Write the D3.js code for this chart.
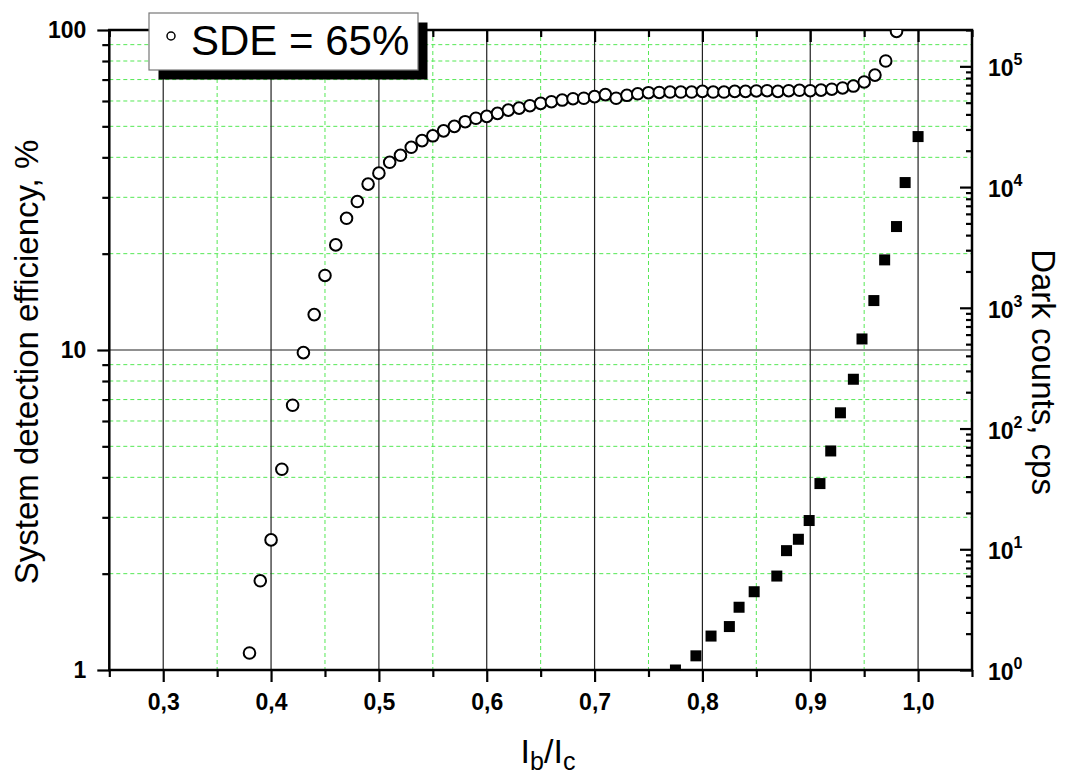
<!DOCTYPE html>
<html>
<head>
<meta charset="utf-8">
<script src="https://cdn.jsdelivr.net/npm/d3@7"></script>
<style>
  body { margin: 0; background: #fff; }
  text { font-family: "Liberation Sans", Arial, sans-serif; }
</style>
</head>
<body>
<div id="chart"></div>
<script>
// ---- data ----
const sdeX = [0.38,0.39,0.40,0.41,0.42,0.43,0.44,0.45,0.46,0.47,0.48,0.49,0.50,0.51,0.52,0.53,0.54,0.55,0.56,0.57,
              0.58,0.59,0.60,0.61,0.62,0.63,0.64,0.65,0.66,0.67,0.68,0.69,0.70,0.71,0.72,0.73,0.74,0.75,0.76,0.77,
              0.78,0.79,0.80,0.81,0.82,0.83,0.84,0.85,0.86,0.87,0.88,0.89,0.90,0.91,0.92,0.93,0.94,0.95,0.96,0.97,0.98];
const sdeY = [1.13,1.90,2.55,4.24,6.72,9.81,12.9,17.1,21.3,25.8,29.1,33.0,35.7,38.6,40.6,43.0,45.1,46.7,48.4,50.0,
              51.7,53.0,53.7,54.9,56.2,57.0,58.0,59.0,59.7,60.4,61.0,61.2,61.9,62.8,61.2,62.5,63.2,63.7,63.8,64.0,
              64.0,64.0,64.3,64.0,64.0,64.3,64.3,64.5,64.6,64.3,64.6,64.8,64.6,64.9,65.3,65.9,66.8,68.8,72.3,80.0,99];

const dcX = [0.775,0.794,0.808,0.825,0.834,0.848,0.869,0.878,0.889,0.899,0.909,0.919,0.928,0.940,0.948,0.959,0.969,0.980,0.988,1.000];
const dcY = [1.0,1.31,1.91,2.29,3.31,4.45,6.0,9.74,12.1,17.3,35.0,65.2,135,256,552,1148,2494,4710,10900,26200];

const xMajor = [0.3,0.4,0.5,0.6,0.7,0.8,0.9,1.0];
const xMinor = [0.25,0.35,0.45,0.55,0.65,0.75,0.85,0.95,1.05];
const yLMajor = [1,10,100];
const yLMinor = [2,3,4,5,6,7,8,9,20,30,40,50,60,70,80,90];
const yRMajor = [1,10,100,1000,10000,100000];
const yRMinor = [2,3,4,5,6,7,8,9,20,30,40,50,60,70,80,90,200,300,400,500,600,700,800,900,
                 2000,3000,4000,5000,6000,7000,8000,9000,20000,30000,40000,50000,60000,70000,80000,90000,200000];

// ---- layout ----
const W = 1073, H = 779;
const pL = 109.3, pR = 972, pT = 30, pB = 670;

const svg = d3.select("#chart").append("svg")
  .attr("width", W).attr("height", H);

const x = d3.scaleLinear().domain([0.25, 1.05]).range([pL, pR]);
const yL = d3.scaleLog().domain([1, 100]).range([pB, pT]);
const yR = d3.scaleLog().domain([1, 2e5]).range([pB, pT]);

// grid
const grid = svg.append("g");
grid.selectAll(".gxm").data(xMinor.slice(1, -1)).join("line")
  .attr("x1", d => x(d)).attr("x2", d => x(d)).attr("y1", pT).attr("y2", pB)
  .attr("stroke", "#55e855").attr("stroke-width", 1).attr("stroke-dasharray", "4,3");
grid.selectAll(".gym").data(yLMinor).join("line")
  .attr("x1", pL).attr("x2", pR).attr("y1", d => yL(d)).attr("y2", d => yL(d))
  .attr("stroke", "#55e855").attr("stroke-width", 1).attr("stroke-dasharray", "4,3");
grid.selectAll(".gxM").data(xMajor).join("line")
  .attr("x1", d => x(d)).attr("x2", d => x(d)).attr("y1", pT).attr("y2", pB)
  .attr("stroke", "#222").attr("stroke-width", 1.2);
grid.append("line")
  .attr("x1", pL).attr("x2", pR).attr("y1", yL(10)).attr("y2", yL(10))
  .attr("stroke", "#222").attr("stroke-width", 1.2);

// axes
const fmtX = d => d.toFixed(1).replace(".", ",");

function clean(g) {
  g.select(".domain").remove();
  g.selectAll(".tick line").attr("stroke", "#000").attr("stroke-width", 2.2);
}

svg.append("g").attr("transform", `translate(0,${pB})`)
  .call(d3.axisBottom(x).tickValues(xMajor).tickSize(12).tickPadding(12).tickFormat(fmtX))
  .call(clean)
  .call(g => g.selectAll("text").attr("font-size", 23).attr("font-weight", "bold").attr("fill", "#000")
    .attr("font-family", "Liberation Sans, Arial, sans-serif"));
svg.append("g").attr("transform", `translate(0,${pB})`)
  .call(d3.axisBottom(x).tickValues(xMinor).tickSize(7).tickFormat(""))
  .call(clean);

svg.append("g").attr("transform", `translate(0,${pT})`)
  .call(d3.axisTop(x).tickValues(xMajor).tickSize(-12).tickFormat(""))
  .call(clean);
svg.append("g").attr("transform", `translate(0,${pT})`)
  .call(d3.axisTop(x).tickValues(xMinor).tickSize(-7).tickFormat(""))
  .call(clean);

svg.append("g").attr("transform", `translate(${pL},0)`)
  .call(d3.axisLeft(yL).tickValues(yLMajor).tickSize(12).tickPadding(11).tickFormat(d3.format("d")))
  .call(clean)
  .call(g => g.selectAll("text").attr("font-size", 23).attr("font-weight", "bold").attr("fill", "#000")
    .attr("font-family", "Liberation Sans, Arial, sans-serif"));
svg.append("g").attr("transform", `translate(${pL},0)`)
  .call(d3.axisLeft(yL).tickValues(yLMinor).tickSize(7).tickFormat(""))
  .call(clean);

svg.append("g").attr("transform", `translate(${pR},0)`)
  .call(d3.axisRight(yR).tickValues(yRMajor).tickSize(-12).tickFormat(""))
  .call(clean);
svg.append("g").attr("transform", `translate(${pR},0)`)
  .call(d3.axisRight(yR).tickValues(yRMinor).tickSize(-6).tickFormat(""))
  .call(clean);

// right labels: 10^n
const rl = svg.append("g").selectAll("text").data(yRMajor).join("text")
  .attr("x", pR + 16).attr("y", d => yR(d) + 10)
  .attr("font-size", 23).attr("font-weight", "bold");
rl.append("tspan").text("10");
rl.append("tspan").attr("dy", -11).attr("font-size", 16).text(d => Math.round(Math.log10(d)));

// frame
svg.append("rect")
  .attr("x", pL).attr("y", pT).attr("width", pR - pL).attr("height", pB - pT)
  .attr("fill", "none").attr("stroke", "#000").attr("stroke-width", 2.5);

// data
svg.append("clipPath").attr("id", "plotClip").append("rect")
  .attr("x", pL).attr("y", pT).attr("width", pR - pL).attr("height", pB - pT);

const plot = svg.append("g").attr("clip-path", "url(#plotClip)");

const sde = sdeX.map((v, i) => ({x: v, y: sdeY[i]}));
const dc = dcX.map((v, i) => ({x: v, y: dcY[i]}));

plot.selectAll(".sq").data(dc).join("rect")
  .attr("x", d => x(d.x) - 5.5).attr("y", d => yR(d.y) - 5.5)
  .attr("width", 11).attr("height", 11).attr("fill", "#000");

plot.selectAll(".ci").data(sde).join("circle")
  .attr("cx", d => x(d.x)).attr("cy", d => yL(d.y)).attr("r", 5.8)
  .attr("fill", "#fff").attr("stroke", "#000").attr("stroke-width", 2);

// axis titles
svg.append("text")
  .attr("transform", `translate(38,362) rotate(-90)`)
  .attr("text-anchor", "middle").attr("font-size", 33)
  .text("System detection efficiency, %");

svg.append("text")
  .attr("transform", `translate(1032,372) rotate(90)`)
  .attr("text-anchor", "middle").attr("font-size", 33)
  .text("Dark counts, cps");

const xt = svg.append("text").attr("x", 548).attr("y", 763)
  .attr("text-anchor", "middle").attr("font-size", 34);
xt.append("tspan").text("I");
xt.append("tspan").attr("font-size", 25).attr("dy", 7).text("b");
xt.append("tspan").attr("dy", -7).text("/I");
xt.append("tspan").attr("font-size", 25).attr("dy", 7).text("c");

// legend
const lg = svg.append("g");
lg.append("rect").attr("x", 158.5).attr("y", 22.5).attr("width", 269).attr("height", 57).attr("fill", "#000");
lg.append("rect").attr("x", 149).attr("y", 13).attr("width", 269).attr("height", 57)
  .attr("fill", "#fff").attr("stroke", "#777").attr("stroke-width", 1.2);
lg.append("circle").attr("cx", 171).attr("cy", 36).attr("r", 4)
  .attr("fill", "#fff").attr("stroke", "#000").attr("stroke-width", 1.5);
lg.append("text").attr("x", 191).attr("y", 55).attr("font-size", 42).text("SDE = 65%");
</script>
</body>
</html>
